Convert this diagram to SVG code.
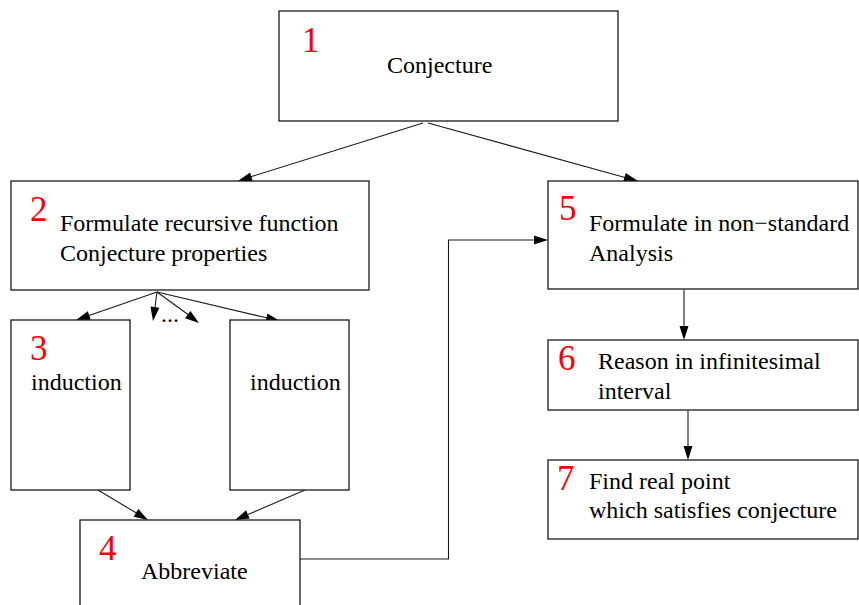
<svg xmlns="http://www.w3.org/2000/svg" width="859" height="605" viewBox="0 0 859 605">
  <style>
    text { font-family: "Liberation Serif", serif !important; }
    .box { fill: #ffffff; stroke: #1a1a1a; stroke-width: 1.3; }
    .num { font-size: 35px; fill: #ff0000; }
    .lbl { font-size: 24px; fill: #000000; }
    .edge { fill: none; stroke: #1a1a1a; stroke-width: 1.1; }
    .head { fill: #000000; stroke: none; }
  </style>
  <rect width="859" height="605" fill="#ffffff"/>

  <!-- connectors: lines plus filled arrowheads -->
  <g id="connectors">
    <path class="edge" d="M423,123 L250,177"/>
    <polygon class="head" points="238,181 250.0,172.5 252.7,181.1"/>
    <path class="edge" d="M428,123 L625,177.5"/>
    <polygon class="head" points="638,181 623.3,181.6 625.7,172.9"/>
    <path class="edge" d="M157,292 L89,315.5"/>
    <polygon class="head" points="76,320 87.8,311.2 90.7,319.7"/>
    <path class="edge" d="M157,292 L155,307"/>
    <polygon class="head" points="153,321 150.45,306.5 159.37,307.75"/>
    <path class="edge" d="M157,292 L188,314.5"/>
    <polygon class="head" points="199,323 185.06,318.31 190.4,311.07"/>
    <path class="edge" d="M157,292 L266.5,317.8"/>
    <polygon class="head" points="280,321 265.35,322.17 267.41,313.41"/>
    <path class="edge" d="M98,490 L136,512.8"/>
    <polygon class="head" points="148,520 133.69,516.66 138.31,508.94"/>
    <path class="edge" d="M305,490 L248,514.5"/>
    <polygon class="head" points="235,520 246.1,510.34 249.64,518.62"/>
    <path class="edge" d="M300,559 L448.5,559 L448.5,240 L535,240"/>
    <polygon class="head" points="548,240 534,235.5 534,244.5"/>
    <path class="edge" d="M684,290 L684,327"/>
    <polygon class="head" points="684,340 679.5,326 688.5,326"/>
    <path class="edge" d="M688,410 L688,447"/>
    <polygon class="head" points="688,460 683.5,446 692.5,446"/>
  </g>

  <g id="node1">
    <rect class="box" x="279" y="11" width="339" height="110"/>
    <text class="num" style="font-family:'Liberation Serif',serif" x="302" y="52">1</text>
    <text class="lbl" style="font-family:'Liberation Serif',serif" x="387" y="73">Conjecture</text>
  </g>

  <g id="node2">
    <rect class="box" x="11" y="181" width="358" height="109"/>
    <text class="num" style="font-family:'Liberation Serif',serif" x="30" y="221">2</text>
    <text class="lbl" style="font-family:'Liberation Serif',serif" x="60" y="231">Formulate recursive function</text>
    <text class="lbl" style="font-family:'Liberation Serif',serif" x="60" y="261">Conjecture properties</text>
  </g>

  <g id="node3">
    <rect class="box" x="11" y="320" width="119" height="170"/>
    <text class="num" style="font-family:'Liberation Serif',serif" x="30" y="360">3</text>
    <text class="lbl" style="font-family:'Liberation Serif',serif" x="31" y="390">induction</text>
  </g>

  <g id="node3b">
    <rect class="box" x="230" y="320" width="119" height="170"/>
    <text class="lbl" style="font-family:'Liberation Serif',serif" x="250" y="390">induction</text>
  </g>

  <g id="ellipsis">
    <text class="lbl" style="font-family:'Liberation Serif',serif" x="161" y="322">...</text>
  </g>

  <g id="node4">
    <rect class="box" x="80" y="520" width="220" height="100"/>
    <text class="num" style="font-family:'Liberation Serif',serif" x="99" y="560">4</text>
    <text class="lbl" style="font-family:'Liberation Serif',serif" x="141" y="579">Abbreviate</text>
  </g>

  <g id="node5">
    <rect class="box" x="548" y="181" width="310" height="108"/>
    <text class="num" style="font-family:'Liberation Serif',serif" x="559" y="220">5</text>
    <text class="lbl" style="font-family:'Liberation Serif',serif" x="589" y="231">Formulate in non−standard</text>
    <text class="lbl" style="font-family:'Liberation Serif',serif" x="589" y="261">Analysis</text>
  </g>

  <g id="node6">
    <rect class="box" x="548" y="340" width="310" height="70"/>
    <text class="num" style="font-family:'Liberation Serif',serif" x="558" y="370">6</text>
    <text class="lbl" style="font-family:'Liberation Serif',serif" x="598" y="369">Reason in infinitesimal</text>
    <text class="lbl" style="font-family:'Liberation Serif',serif" x="598" y="399">interval</text>
  </g>

  <g id="node7">
    <rect class="box" x="548" y="460" width="310" height="79"/>
    <text class="num" style="font-family:'Liberation Serif',serif" x="557" y="490">7</text>
    <text class="lbl" style="font-family:'Liberation Serif',serif" x="589" y="489">Find real point</text>
    <text class="lbl" style="font-family:'Liberation Serif',serif" x="589" y="518">which satisfies conjecture</text>
  </g>
</svg>
